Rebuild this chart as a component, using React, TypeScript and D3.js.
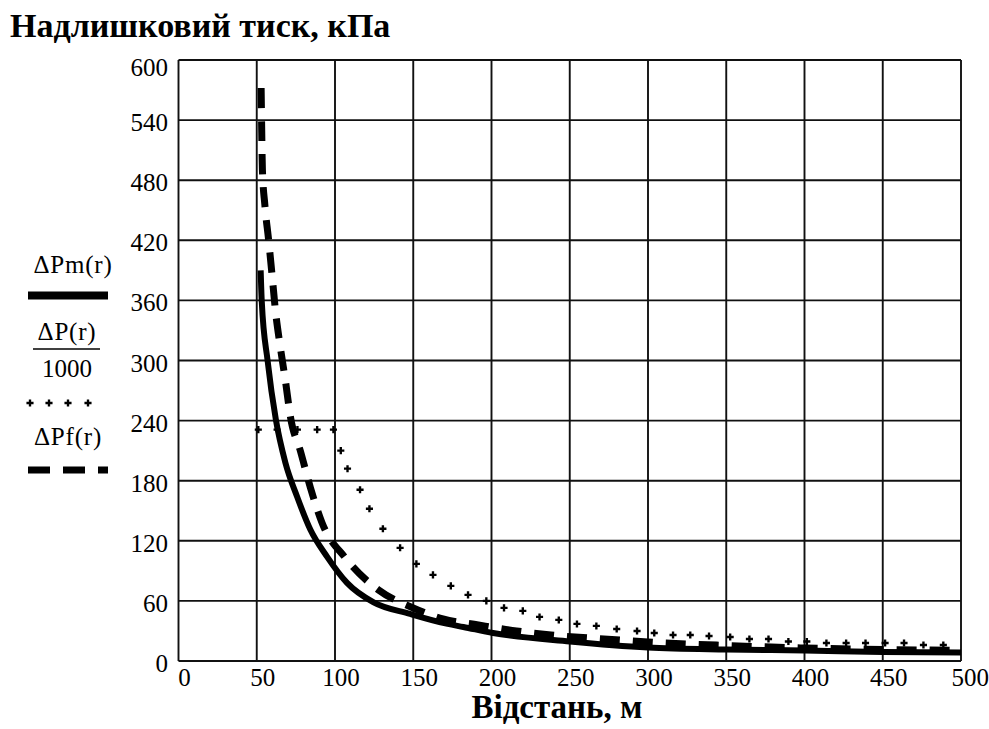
import React from "react";
import * as d3 from "d3";

const W = 989;
const H = 729;

const titleY = "Надлишковий тиск, кПа";
const titleX = "Відстань, м";

const xTicks = [0, 50, 100, 150, 200, 250, 300, 350, 400, 450, 500];
const yTicks = [0, 60, 120, 180, 240, 300, 360, 420, 480, 540, 600];

// ΔPm(r) - solid
const pmR = [52.5, 53.2, 57, 62.2, 68.3, 75.8, 84.3, 95, 107.7, 124.7, 148, 172, 182, 201, 250, 300, 350, 400, 450, 500];
const pmV = [390, 359, 299, 241, 198, 164, 131, 104, 78, 58.5, 47, 37, 34, 28, 19.5, 13.5, 11.5, 10.5, 9, 8.5];

// ΔP(r)/1000 - dots
const pR = [51, 63, 76, 88.6, 99, 103.7, 108, 116, 122, 130.6, 141.6, 152, 162.6, 174, 185, 196.7, 208, 220, 230.7, 243,
  254.6, 267, 280, 293, 304, 316, 327, 339, 352.5, 364.8, 377, 389.7, 401.5, 414, 426.6, 439, 451.5, 463.6, 476, 488.7];
const pV = [231, 231, 231, 231, 231, 210, 192, 171, 152, 132, 113, 97, 86, 75, 66, 60, 53, 50, 44, 41,
  37, 35, 32, 30, 28, 26, 26, 25, 24, 22, 22, 19.5, 19.5, 18, 18, 18, 18, 18, 16, 16];

// ΔPf(r) - dashed
const fR = [52.8, 53.2, 53.6, 55.2, 57.6, 59.8, 62, 65, 68.3, 71.5, 78, 84.3, 91.7, 106.6, 127.7, 150, 169, 191.6, 216, 238, 282, 300, 350, 400, 450, 500];
const fV = [572, 527, 491, 455, 420, 385, 349, 314, 280, 244, 209, 173, 138, 103, 71, 53, 42, 36, 30, 26, 21, 19, 15.5, 13, 11.5, 10.5];

const font = "Liberation Serif, Times New Roman, DejaVu Serif, serif";

export default function App() {
  const left = 178.5, right = 961, top = 60, bottom = 661;
  const x = d3.scaleLinear().domain([0, 500]).range([left, right]);
  const y = d3.scaleLinear().domain([0, 600]).range([bottom, top]);

  const pmPath = d3.line<number>().curve(d3.curveMonotoneX)
    .x((_, i) => x(pmR[i])).y((d) => y(d))(pmV) || "";
  const fPath = d3.line<number>().curve(d3.curveMonotoneX)
    .x((_, i) => x(fR[i])).y((d) => y(d))(fV) || "";
  const cross = d3.symbol().type(d3.symbolCross).size(28)() || "";

  const grid = "#111";

  return (
    <svg width={W} height={H} style={{ position: "absolute", left: 0, top: 0, background: "#fff", fontFamily: font }}>
      <rect width={W} height={H} fill="#fff" />
      <text x={10} y={36.5} style={{ fontFamily: font }} fontWeight="bold" fontSize={34}>{titleY}</text>

      {xTicks.map((t) => (
        <line key={"gx" + t} x1={x(t)} x2={x(t)} y1={top} y2={bottom} stroke={grid} strokeWidth={1.9} />
      ))}
      {yTicks.map((t) => (
        <line key={"gy" + t} x1={left} x2={right} y1={y(t)} y2={y(t)} stroke={grid} strokeWidth={1.9} />
      ))}

      {yTicks.map((t) => (
        <text key={"ly" + t} x={168} y={Math.max(y(t) + 2.5, top + 7.5)} textAnchor="end" dominantBaseline="central"
          style={{ fontFamily: font }} fontSize={25}>{t}</text>
      ))}
      {xTicks.map((t, i) => (
        <text key={"lx" + t} x={i === xTicks.length - 1 ? W : x(t) + 6} y={686}
          textAnchor={i === xTicks.length - 1 ? "end" : "middle"} style={{ fontFamily: font }} fontSize={25}>{t}</text>
      ))}

      <text x={557} y={718} textAnchor="middle" style={{ fontFamily: font }} fontWeight="bold" fontSize={33}>{titleX}</text>

      <path d={pmPath} fill="none" stroke="#000" strokeWidth={6} />
      <path d={fPath} fill="none" stroke="#000" strokeWidth={7} strokeDasharray="20 13" />
      {pV.map((v, i) => (
        <path key={"p" + i} d={cross} transform={`translate(${x(pR[i])},${y(v)})`} fill="#000" />
      ))}

      {/* legend */}
      <g style={{ fontFamily: font }} fontSize={25} textAnchor="middle">
        <text x={73} y={273} letterSpacing={0.8}>ΔPm(r)</text>
        <line x1={28} x2={108} y1={295.5} y2={295.5} stroke="#000" strokeWidth={8} />
        <text x={67} y={340} letterSpacing={0.8}>ΔP(r)</text>
        <line x1={33} x2={100} y1={349} y2={349} stroke="#000" strokeWidth={1.5} />
        <text x={67} y={376.5}>1000</text>
        {[30, 49, 68, 88].map((cx) => (
          <path key={"lc" + cx} d={cross} transform={`translate(${cx},403)`} fill="#000" />
        ))}
        <text x={68} y={445} letterSpacing={0.8}>ΔPf(r)</text>
        <line x1={28} x2={108} y1={470} y2={470} stroke="#000" strokeWidth={7} strokeDasharray="22 13" />
      </g>
    </svg>
  );
}
